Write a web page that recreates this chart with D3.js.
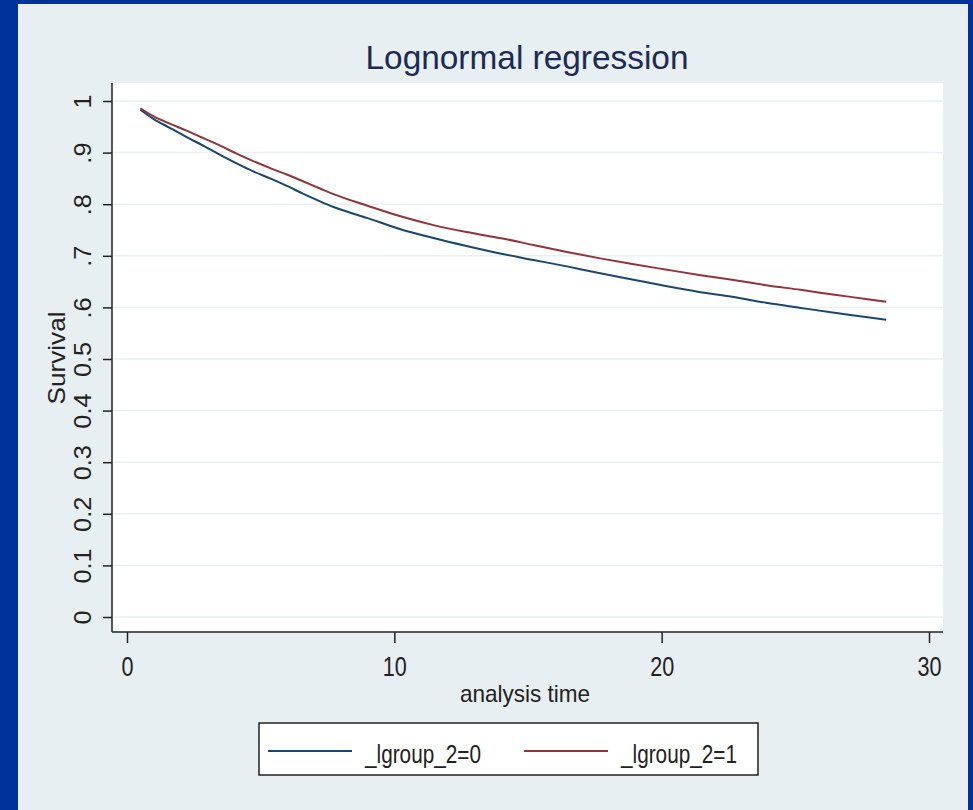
<!DOCTYPE html>
<html>
<head>
  <style>
    body { margin: 0; background: #003399; }
    svg { display: block; }
    text { font-family: "Liberation Sans", Arial, sans-serif; }
  </style>
</head>
<body>
  <script src="https://d3js.org/d3.v7.min.js"></script>
  <script>
    // survival curves
    const times = [0.5, 1, 1.6, 2.2, 2.9, 3.5, 4.1, 4.7, 5.4, 6, 6.6, 7.2, 7.7, 9, 10.2,
                   11.5, 12.7, 14, 15.2, 16.5, 17.7, 18.9, 20.2, 21.4, 22.7, 23.9, 25.2, 26.4, 27.7, 28.4];
    const group0 = [0.983, 0.965, 0.948, 0.931, 0.912, 0.895, 0.879, 0.864, 0.849, 0.835, 0.820, 0.806, 0.795, 0.773, 0.752,
                    0.734, 0.719, 0.704, 0.692, 0.679, 0.666, 0.654, 0.641, 0.630, 0.620, 0.609, 0.599, 0.590, 0.581, 0.576];
    const group1 = [0.986, 0.970, 0.956, 0.943, 0.927, 0.913, 0.898, 0.884, 0.869, 0.857, 0.844, 0.831, 0.820, 0.797, 0.777,
                    0.759, 0.746, 0.734, 0.721, 0.707, 0.695, 0.684, 0.673, 0.663, 0.653, 0.643, 0.634, 0.625, 0.616, 0.611];
    const seriesNames = ['_lgroup_2=0', '_lgroup_2=1'];
    const yTicks = [0, 0.1, 0.2, 0.3, 0.4, 0.5, 0.6, 0.7, 0.8, 0.9, 1];
    const yTickLabels = ['0', '0.1', '0.2', '0.3', '0.4', '0.5', '.6', '.7', '.8', '.9', '1'];
    const xTicks = [0, 10, 20, 30];

    const width = 973, height = 810;
    const colors = ['#1a476f', '#90353b'];

    const svg = d3.select('body').append('svg')
      .attr('width', width)
      .attr('height', height);

    // light panel inside the blue frame
    svg.append('rect')
      .attr('x', 18).attr('y', 4)
      .attr('width', 950).attr('height', height - 4)
      .attr('fill', '#e7eff2');

    const plot = { left: 112, right: 943, top: 83, bottom: 632 };

    svg.append('rect')
      .attr('x', plot.left).attr('y', plot.top)
      .attr('width', plot.right - plot.left).attr('height', plot.bottom - plot.top)
      .attr('fill', '#ffffff');

    const x = d3.scaleLinear().domain([0, 30]).range([127, 929]);
    const y = d3.scaleLinear().domain([0, 1]).range([617, 101]);

    // gridlines
    svg.append('g')
      .selectAll('line')
      .data(yTicks)
      .join('line')
      .attr('x1', plot.left).attr('x2', plot.right)
      .attr('y1', d => y(d)).attr('y2', d => y(d))
      .attr('stroke', '#e8f0f3')
      .attr('stroke-width', 1.5);

    // y axis
    const yAxis = svg.append('g')
      .attr('transform', `translate(${plot.left},0)`)
      .call(d3.axisLeft(y).tickValues(yTicks).tickSize(9).tickFormat(''));
    yAxis.select('.domain').remove();
    yAxis.selectAll('.tick line').attr('stroke', '#222').attr('stroke-width', 1.5);

    yAxis.selectAll('.tick')
      .append('text')
      .attr('fill', '#222')
      .attr('font-size', 23)
      .attr('text-anchor', 'middle')
      .attr('transform', 'translate(-21.5,0) rotate(-90) scale(1.1,1)')
      .text((d, i) => yTickLabels[i]);

    // x axis
    const xAxis = svg.append('g')
      .attr('transform', `translate(0,${plot.bottom})`)
      .call(d3.axisBottom(x).tickValues(xTicks).tickSize(11).tickFormat(''));
    xAxis.select('.domain').remove();
    xAxis.selectAll('.tick line').attr('stroke', '#222').attr('stroke-width', 1.5);

    xAxis.selectAll('.tick')
      .append('text')
      .attr('fill', '#222')
      .attr('font-size', 27)
      .attr('text-anchor', 'middle')
      .attr('transform', 'translate(0,44) scale(0.8,1)')
      .text(d => d);

    // axis lines
    svg.append('line')
      .attr('x1', plot.left).attr('x2', plot.left)
      .attr('y1', plot.top).attr('y2', plot.bottom)
      .attr('stroke', '#222').attr('stroke-width', 1.5);
    svg.append('line')
      .attr('x1', plot.left).attr('x2', plot.right)
      .attr('y1', plot.bottom).attr('y2', plot.bottom)
      .attr('stroke', '#222').attr('stroke-width', 1.5);

    // curves
    const line = d3.line()
      .x(d => x(d[0]))
      .y(d => y(d[1]))
      .curve(d3.curveMonotoneX);

    [group0, group1].forEach((vals, i) => {
      svg.append('path')
        .datum(times.map((t, j) => [t, vals[j]]))
        .attr('d', line)
        .attr('fill', 'none')
        .attr('stroke', colors[i])
        .attr('stroke-width', 2);
    });

    // title and axis titles
    svg.append('text')
      .attr('x', 527).attr('y', 69)
      .attr('text-anchor', 'middle')
      .attr('font-size', 33)
      .attr('fill', '#1c2a55')
      .attr('textLength', 323)
      .attr('lengthAdjust', 'spacingAndGlyphs')
      .text('Lognormal regression');

    svg.append('text')
      .attr('x', 525).attr('y', 702)
      .attr('text-anchor', 'middle')
      .attr('font-size', 24)
      .attr('fill', '#222')
      .attr('textLength', 130)
      .attr('lengthAdjust', 'spacingAndGlyphs')
      .text('analysis time');

    svg.append('text')
      .attr('transform', 'translate(65,358) rotate(-90)')
      .attr('text-anchor', 'middle')
      .attr('font-size', 24)
      .attr('fill', '#222')
      .attr('textLength', 93)
      .attr('lengthAdjust', 'spacingAndGlyphs')
      .text('Survival');

    // legend
    const legend = svg.append('g');
    legend.append('rect')
      .attr('x', 259).attr('y', 723)
      .attr('width', 499).attr('height', 52)
      .attr('fill', '#fff')
      .attr('stroke', '#222')
      .attr('stroke-width', 1.5);

    const legendX = [268, 524];
    seriesNames.forEach((name, i) => {
      legend.append('line')
        .attr('x1', legendX[i]).attr('x2', legendX[i] + 84)
        .attr('y1', 751).attr('y2', 751)
        .attr('stroke', colors[i])
        .attr('stroke-width', 2);
      legend.append('text')
        .attr('x', legendX[i] + 97).attr('y', 763)
        .attr('font-size', 26)
        .attr('fill', '#222')
        .attr('textLength', 116)
        .attr('lengthAdjust', 'spacingAndGlyphs')
        .text(name);
    });
  </script>
</body>
</html>
